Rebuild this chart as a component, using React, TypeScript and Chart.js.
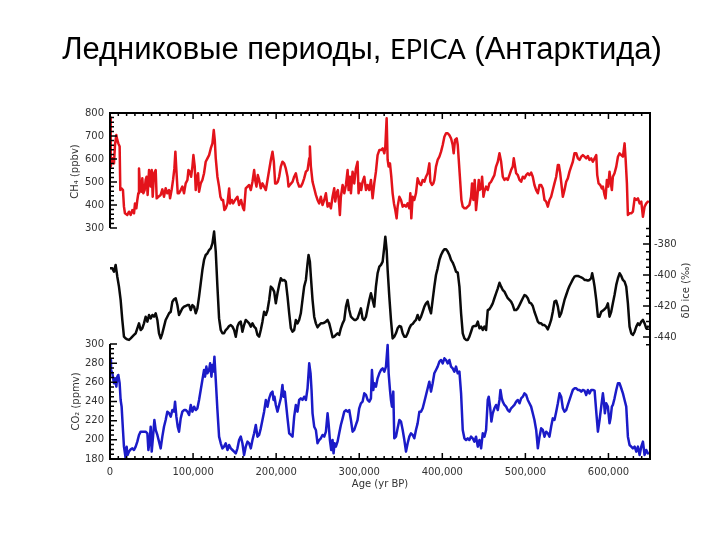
import React, { useEffect, useRef } from 'react';
import { Chart, registerables } from 'chart.js';

Chart.register(...registerables);

// ---------- text ----------
const TITLE_PART_1 = 'Ледниковые периоды, ';
const TITLE_PART_LATIN = 'EPICA';
const TITLE_PART_2 = ' (Антарктида)';
const X_TITLE = 'Age (yr BP)';
const CH4_TITLE = 'CH₄ (ppbv)';
const CO2_TITLE = 'CO₂ (ppmv)';
const DD_TITLE = 'δD ice (‰)';

// ---------- ticks ----------
const X_TICKS = [0, 100000, 200000, 300000, 400000, 500000, 600000];
const CH4_TICKS = [800, 700, 600, 500, 400, 300];
const CO2_TICKS = [300, 280, 260, 240, 220, 200, 180];
const DD_TICKS = [-380, -400, -420, -440];

// ---------- scale ranges (stacked panels share one plot box) ----------
const X_RANGE = [0, 650000];
const CH4_RANGE = [-704, 800];
const CO2_RANGE = [180, 541];
const DD_RANGE = [-518.7, -295.5];

// ---------- CH4 (ppbv) ----------
const ch4Age = [
  0, 0.5, 1.2, 2.8, 4.8, 6.0, 7.6, 8.8, 10.0, 11.6,
  12.4, 14.0, 15.6, 16.8, 18.0, 20.8, 22.9, 24.9, 26.9, 28.9,
  30.1, 31.7, 32.9, 34.1, 34.9, 36.1, 37.7, 38.9, 40.1, 41.7,
  42.9, 44.1, 45.3, 47.0, 49.0, 50.2, 51.4, 53.0, 55.0, 56.2,
  58.2, 61.0, 63.0, 65.0, 67.0, 69.0, 71.1, 72.3, 74.3, 75.9,
  77.5, 78.7, 79.9, 81.5, 83.1, 85.1, 87.1, 89.1, 91.1, 93.2,
  94.4, 96.0, 97.6, 99.2, 100.4, 102.0, 103.2, 104.4, 106.0, 107.2,
  109.2, 111.2, 113.2, 115.2, 117.3, 119.3, 121.3, 123.3, 124.9, 126.1,
  127.3, 129.3, 131.3, 132.9, 134.5, 136.1, 137.7, 139.3, 141.4, 143.4,
  144.6, 146.6, 148.2, 150.6, 153.4, 155.4, 157.8, 160.2, 161.4, 163.4,
  165.5, 167.5, 169.5, 171.5, 173.5, 174.7, 176.3, 177.9, 179.5, 181.5,
  183.5, 185.5, 187.6, 189.6, 191.6, 193.6, 195.6, 197.2, 198.8, 200.4,
  202.0, 203.6, 205.6, 207.6, 209.6, 211.6, 213.7, 214.9, 216.5, 218.1,
  219.7, 221.7, 223.7, 225.7, 227.7, 229.7, 231.7, 233.7, 235.8, 237.8,
  239.8, 240.6, 241.8, 243.8, 245.8, 247.8, 249.8, 251.8, 253.8, 255.8,
  257.9, 259.9, 261.9, 263.9, 265.9, 267.9, 269.9, 271.1, 272.7, 274.3,
  275.9, 276.7, 277.9, 280.0, 282.0, 284.0, 286.0, 287.2, 288.8, 290.0,
  292.0, 294.0, 296.0, 298.0, 299.2, 300.8, 302.4, 304.0, 306.1, 308.1,
  310.1, 312.1, 314.1, 316.1, 318.1, 320.1, 322.1, 324.2, 326.2, 328.2,
  330.2, 331.4, 333.0, 334.2, 335.4, 337.0, 338.6, 340.2, 341.8, 343.4,
  345.0, 346.2, 348.3, 350.3, 352.3, 354.3, 356.3, 358.3, 360.3, 361.5,
  362.7, 364.3, 366.3, 368.3, 370.3, 372.4, 374.4, 376.4, 378.4, 380.4,
  382.4, 384.4, 385.6, 387.6, 389.2, 390.4, 392.4, 394.4, 396.5, 398.5,
  400.5, 402.5, 404.5, 406.5, 408.5, 410.5, 412.5, 413.7, 415.3, 417.3,
  418.6, 419.8, 421.4, 423.0, 424.6, 426.6, 428.6, 430.6, 432.6, 434.6,
  435.8, 437.4, 439.0, 440.6, 442.2, 443.9, 444.7, 446.7, 447.9, 449.5,
  450.7, 452.7, 454.7, 456.7, 458.7, 460.7, 462.7, 464.7, 466.8, 468.8,
  470.8, 472.8, 474.8, 476.8, 478.8, 480.8, 482.8, 484.8, 486.0, 487.6,
  488.9, 490.9, 492.9, 494.9, 496.9, 498.9, 500.9, 502.9, 504.9, 506.9,
  508.9, 510.9, 513.0, 515.0, 517.0, 519.0, 521.0, 523.0, 525.0, 527.0,
  529.0, 531.0, 533.0, 535.0, 537.1, 539.1, 540.3, 541.9, 543.5, 545.1,
  547.1, 549.1, 551.1, 553.1, 555.1, 557.1, 559.1, 561.2, 563.2, 565.2,
  567.2, 569.2, 571.2, 573.2, 575.2, 577.2, 579.2, 581.2, 583.3, 585.3,
  586.5, 588.1, 590.1, 592.1, 593.3, 595.3, 596.5, 598.1, 599.7, 601.3,
  602.9, 604.1, 605.3, 607.3, 609.4, 611.4, 613.4, 615.4, 617.4, 619.4,
  620.6, 622.2, 623.4, 625.4, 627.4, 629.4, 631.5, 633.5, 635.5, 637.5,
  639.5, 641.5, 643.5, 645.5, 647.5,
];
const ch4Values = [
  780, 650, 567, 603, 581, 661, 704, 683, 668, 654,
  465, 472, 465, 393, 364, 357, 371, 357, 378, 364,
  407, 386, 422, 451, 559, 480, 458, 516, 451, 465,
  509, 523, 444, 552, 480, 552, 436, 538, 552, 429,
  436, 444, 468, 436, 473, 451, 465, 429, 468, 509,
  559, 632, 552, 451, 451, 465, 480, 451, 494, 509,
  552, 545, 523, 567, 617, 567, 465, 516, 538, 458,
  494, 509, 538, 588, 603, 617, 646, 668, 726, 683,
  603, 523, 480, 436, 422, 422, 378, 386, 407, 472,
  407, 422, 407, 422, 436, 400, 422, 386, 378, 472,
  480, 487, 465, 501, 552, 509, 480, 530, 509, 473,
  494, 480, 465, 509, 552, 596, 632, 588, 494, 494,
  501, 523, 567, 588, 581, 559, 523, 480, 487, 494,
  501, 523, 538, 501, 480, 480, 494, 516, 545, 552,
  603, 654, 567, 501, 473, 444, 422, 407, 436, 400,
  422, 451, 393, 407, 386, 436, 473, 415, 451, 465,
  400, 357, 436, 487, 451, 487, 552, 465, 523, 451,
  545, 494, 559, 588, 451, 494, 465, 501, 523, 465,
  487, 465, 509, 429, 494, 545, 617, 639, 639, 646,
  625, 654, 777, 596, 567, 581, 523, 451, 407, 378,
  342, 393, 436, 422, 393, 400, 393, 407, 386, 451,
  342, 436, 422, 451, 516, 494, 487, 509, 501, 523,
  538, 581, 501, 487, 494, 509, 567, 596, 610, 632,
  661, 697, 712, 712, 704, 690, 661, 625, 683, 690,
  661, 596, 509, 422, 393, 386, 386, 393, 400, 436,
  494, 422, 509, 378, 436, 509, 465, 472, 523, 436,
  458, 480, 465, 494, 501, 516, 530, 567, 588, 625,
  588, 523, 509, 516, 509, 530, 552, 567, 603, 567,
  538, 530, 509, 501, 523, 516, 530, 538, 530, 541,
  523, 487, 465, 451, 487, 487, 472, 422, 415, 393,
  422, 436, 465, 494, 523, 574, 574, 538, 487, 436,
  465, 501, 516, 545, 567, 588, 625, 625, 603, 596,
  610, 617, 610, 603, 613, 596, 603, 588, 603, 617,
  530, 494, 487, 472, 480, 444, 429, 509, 480, 545,
  494, 465, 523, 538, 567, 610, 625, 617, 610, 668,
  603, 494, 357, 364, 364, 371, 429, 422, 429, 407,
  415, 349, 393, 407, 415,
];

// ---------- deltaD (permil) ----------
const ddAge = [
  0.0, 2.8, 4.8, 6.8, 8.8, 10.8, 12.8, 14.8, 16.8, 18.8,
  20.8, 22.9, 24.9, 26.9, 28.9, 30.9, 32.9, 34.9, 36.9, 38.9,
  40.9, 42.9, 45.0, 47.0, 49.0, 51.0, 53.0, 55.0, 57.0, 59.0,
  61.0, 63.0, 65.0, 67.0, 69.0, 71.1, 73.1, 75.1, 77.1, 79.1,
  81.1, 83.1, 85.1, 87.1, 89.1, 91.1, 93.2, 95.2, 97.2, 99.2,
  101.2, 103.2, 105.2, 107.2, 109.2, 111.2, 113.2, 115.2, 117.3, 119.3,
  121.3, 123.3, 125.3, 127.3, 129.3, 131.3, 133.3, 135.3, 137.3, 139.3,
  141.4, 143.4, 145.4, 147.4, 149.4, 151.4, 153.4, 155.4, 157.4, 159.4,
  161.4, 163.4, 165.5, 167.5, 169.5, 171.5, 173.5, 175.5, 177.5, 179.5,
  181.5, 183.5, 185.5, 187.6, 189.6, 191.6, 193.6, 195.6, 197.6, 199.6,
  201.6, 203.6, 205.6, 207.6, 209.6, 211.6, 213.7, 215.7, 217.7, 219.7,
  221.7, 223.7, 225.7, 227.7, 229.7, 231.7, 233.7, 235.8, 237.8, 239.0,
  240.6, 241.8, 243.8, 245.8, 247.8, 249.8, 251.8, 253.8, 255.8, 257.9,
  259.9, 261.9, 263.9, 265.9, 267.9, 269.9, 271.9, 273.9, 275.9, 277.9,
  280.0, 282.0, 284.0, 286.0, 288.0, 290.0, 292.0, 294.0, 296.0, 298.0,
  300.0, 302.0, 304.0, 306.1, 308.1, 310.1, 312.1, 314.1, 316.1, 318.1,
  320.1, 322.1, 324.2, 326.2, 328.2, 330.2, 331.4, 333.0, 334.2, 336.2,
  338.2, 340.2, 342.2, 344.2, 346.2, 348.3, 350.3, 352.3, 354.3, 356.3,
  358.3, 360.3, 362.3, 364.3, 366.3, 368.3, 370.3, 372.4, 374.4, 376.4,
  378.4, 380.4, 382.4, 384.4, 386.4, 388.4, 390.4, 392.4, 394.4, 396.5,
  398.5, 400.5, 402.5, 404.5, 406.5, 408.5, 410.5, 412.5, 414.5, 416.5,
  418.6, 420.6, 422.6, 424.6, 426.6, 428.6, 430.6, 432.6, 434.6, 436.6,
  438.6, 440.6, 442.7, 444.7, 446.7, 448.7, 450.7, 452.7, 454.7, 456.7,
  458.7, 460.7, 462.7, 464.7, 466.8, 468.8, 470.8, 472.8, 474.8, 476.8,
  478.8, 480.8, 482.8, 484.8, 486.8, 488.9, 490.9, 492.9, 494.9, 496.9,
  498.9, 500.9, 502.9, 504.9, 506.9, 508.9, 510.9, 513.0, 515.0, 517.0,
  519.0, 521.0, 523.0, 525.0, 527.0, 529.0, 531.0, 533.0, 535.0, 537.1,
  539.1, 541.1, 543.1, 545.1, 547.1, 549.1, 551.1, 553.1, 555.1, 557.1,
  559.1, 561.2, 563.2, 565.2, 567.2, 569.2, 571.2, 573.2, 575.2, 577.2,
  579.2, 580.4, 582.0, 583.3, 585.3, 587.3, 589.3, 591.3, 593.3, 595.3,
  597.3, 599.3, 601.3, 603.3, 605.3, 607.3, 609.4, 611.4, 613.4, 615.4,
  617.4, 619.4, 621.4, 623.4, 625.4, 627.4, 629.4, 631.5, 633.5, 635.5,
  637.5, 639.5, 641.5, 643.5, 645.5, 647.5,
];
const ddValues = [
  -395.7, -395.7, -397.8, -393.5, -401.1, -407.5, -416.1, -429.0, -439.8, -440.9,
  -441.5, -441.9, -440.9, -439.8, -438.7, -437.6, -434.4, -431.2, -435.5, -434.4,
  -431.2, -426.9, -430.1, -425.8, -428.0, -425.8, -426.9, -424.7, -429.0, -437.6,
  -440.9, -437.6, -433.3, -429.0, -426.9, -424.7, -423.7, -417.2, -415.7, -415.0,
  -419.4, -425.8, -423.7, -421.5, -420.4, -420.0, -419.4, -419.4, -422.6, -419.4,
  -420.4, -424.7, -421.5, -414.0, -405.4, -396.8, -390.3, -387.1, -386.0, -383.9,
  -382.8, -379.6, -372.0, -385.0, -407.5, -428.0, -435.5, -437.6, -437.6, -435.5,
  -434.4, -432.9, -432.3, -433.3, -435.5, -439.8, -433.3, -430.8, -430.1, -436.6,
  -432.3, -429.0, -430.1, -431.2, -433.3, -431.2, -433.3, -434.4, -438.7, -439.8,
  -435.5, -430.1, -423.7, -425.8, -422.6, -416.1, -407.5, -408.6, -410.7, -418.3,
  -411.8, -406.4, -402.1, -403.6, -403.2, -404.3, -414.0, -424.7, -434.4, -436.6,
  -435.5, -429.0, -431.2, -429.0, -424.7, -416.1, -407.5, -403.2, -392.5, -387.1,
  -391.4, -401.1, -416.1, -426.9, -431.2, -433.8, -432.3, -431.2, -431.2, -430.8,
  -430.1, -429.0, -431.2, -435.5, -440.2, -439.8, -438.7, -437.6, -438.7, -434.4,
  -431.2, -429.0, -420.4, -416.1, -422.6, -426.9, -428.0, -429.0, -429.0, -428.0,
  -424.7, -421.5, -428.0, -429.0, -426.9, -421.5, -416.1, -411.8, -416.1, -420.4,
  -407.5, -398.9, -394.6, -393.5, -391.4, -381.7, -375.3, -383.9, -396.8, -414.0,
  -429.0, -440.9, -439.8, -437.6, -434.4, -432.9, -433.3, -437.6, -439.8, -439.8,
  -437.6, -434.4, -432.3, -431.6, -430.1, -429.0, -425.8, -429.0, -426.9, -423.7,
  -420.4, -418.3, -417.2, -421.5, -424.7, -416.1, -407.5, -400.0, -395.7, -390.3,
  -387.1, -384.9, -383.4, -383.4, -384.9, -387.1, -390.3, -392.0, -394.6, -397.8,
  -398.5, -407.5, -424.7, -437.6, -440.9, -441.9, -441.9, -439.8, -436.6, -433.3,
  -432.9, -432.9, -430.1, -434.4, -433.3, -435.5, -433.3, -435.5, -422.6, -422.1,
  -420.4, -418.3, -415.0, -411.8, -408.6, -405.0, -407.5, -409.7, -410.7, -412.9,
  -415.0, -416.1, -417.2, -419.4, -422.6, -422.6, -421.5, -419.4, -417.2, -415.0,
  -412.9, -413.5, -415.0, -417.8, -418.3, -420.0, -423.7, -426.9, -430.1, -431.2,
  -431.2, -432.3, -432.3, -433.3, -435.1, -432.3, -429.0, -423.7, -417.2, -416.6,
  -420.4, -426.9, -424.7, -420.4, -416.1, -412.9, -409.7, -407.1, -405.0, -402.8,
  -401.1, -400.6, -400.6, -401.1, -401.5, -402.1, -403.2, -403.2, -403.6, -403.2,
  -402.1, -398.9, -403.2, -407.5, -416.1, -426.9, -426.9, -423.7, -423.0, -422.1,
  -420.9, -418.3, -426.9, -423.7, -418.3, -412.9, -406.4, -402.1, -398.9, -400.6,
  -403.2, -404.3, -407.5, -418.3, -433.3, -437.6, -438.7, -436.6, -433.3, -431.2,
  -432.3, -430.1, -429.0, -431.2, -434.4, -433.3,
];

// ---------- CO2 (ppmv) ----------
const co2Age = [
  0.0, 1.2, 2.8, 4.8, 6.0, 7.6, 8.8, 10.0, 11.6, 12.8,
  14.0, 15.6, 16.8, 18.0, 18.8, 20.0, 21.2, 22.9, 24.9, 26.9,
  28.9, 30.9, 32.9, 34.9, 36.9, 38.9, 40.9, 42.9, 45.0, 46.2,
  47.8, 49.0, 50.2, 51.8, 53.4, 55.0, 57.0, 59.0, 61.0, 63.0,
  65.0, 67.0, 69.0, 71.1, 73.1, 75.1, 77.1, 78.3, 79.9, 81.5,
  83.1, 85.1, 87.1, 89.1, 91.1, 93.2, 95.2, 97.2, 99.2, 101.2,
  103.2, 105.2, 107.2, 109.2, 111.2, 113.2, 114.4, 116.0, 117.3, 119.3,
  120.5, 122.1, 123.3, 124.5, 125.7, 127.3, 129.3, 131.3, 133.3, 135.3,
  137.3, 139.3, 141.4, 143.4, 145.4, 147.4, 149.4, 151.4, 153.4, 155.4,
  157.4, 159.4, 161.4, 163.4, 165.5, 167.5, 169.5, 171.5, 173.5, 175.5,
  177.5, 179.5, 181.5, 183.5, 185.5, 187.6, 189.6, 191.6, 193.6, 195.6,
  196.8, 198.0, 199.6, 201.6, 203.6, 205.6, 207.6, 208.8, 210.4, 211.6,
  213.7, 215.7, 217.7, 219.7, 221.7, 223.7, 225.7, 227.7, 229.7, 231.7,
  233.7, 235.8, 237.8, 239.8, 241.4, 242.6, 243.8, 245.8, 247.8, 249.8,
  251.8, 253.8, 255.8, 257.9, 259.9, 261.9, 263.1, 264.7, 266.3, 267.9,
  269.1, 270.3, 271.9, 273.9, 275.9, 277.9, 280.0, 282.0, 284.0, 286.0,
  288.0, 290.0, 292.0, 294.0, 296.0, 298.0, 300.0, 302.0, 304.0, 306.1,
  308.1, 310.1, 312.1, 314.1, 315.3, 316.9, 318.1, 320.1, 322.1, 324.2,
  326.2, 328.2, 330.2, 332.2, 334.2, 335.4, 337.0, 338.2, 339.4, 341.0,
  342.2, 344.2, 346.2, 348.3, 350.3, 352.3, 354.3, 356.3, 358.3, 360.3,
  362.3, 364.3, 366.3, 368.3, 370.3, 372.4, 374.4, 376.4, 378.4, 380.4,
  382.4, 384.4, 386.4, 388.4, 390.4, 392.4, 394.4, 396.5, 398.5, 400.5,
  402.5, 404.5, 406.5, 408.5, 410.5, 412.5, 414.5, 416.5, 418.6, 420.6,
  422.6, 424.6, 426.6, 428.6, 430.6, 432.6, 434.6, 436.6, 438.6, 440.6,
  442.7, 444.7, 446.7, 448.7, 450.7, 452.7, 454.7, 455.9, 457.5, 459.1,
  460.7, 462.7, 464.7, 466.8, 468.8, 470.0, 471.6, 472.8, 474.8, 476.8,
  478.8, 480.8, 482.8, 484.8, 486.8, 488.9, 490.9, 492.9, 494.9, 496.9,
  498.9, 500.9, 502.9, 504.9, 506.9, 508.9, 510.9, 513.0, 515.0, 517.0,
  519.0, 521.0, 523.0, 525.0, 527.0, 529.0, 531.0, 533.0, 535.0, 537.1,
  539.1, 541.1, 543.1, 545.1, 547.1, 549.1, 551.1, 553.1, 555.1, 557.1,
  559.1, 561.2, 563.2, 565.2, 567.2, 569.2, 571.2, 573.2, 575.2, 577.2,
  579.2, 581.2, 583.3, 585.3, 587.3, 589.3, 591.3, 593.3, 594.5, 595.7,
  597.3, 599.3, 601.3, 602.5, 604.1, 605.3, 607.3, 609.4, 611.4, 613.4,
  615.4, 617.4, 619.4, 621.4, 623.4, 625.4, 627.4, 629.4, 631.5, 633.5,
  635.5, 637.5, 639.5, 641.5, 643.5, 645.5, 647.5,
];
const co2Values = [
  283.3, 272.9, 269.4, 259.0, 264.2, 255.5, 265.9, 267.7, 259.0, 241.6,
  234.6, 210.3, 192.9, 185.9, 180.7, 192.9, 184.2, 187.7, 190.1, 191.1,
  189.4, 192.9, 198.1, 205.1, 208.5, 208.5, 208.5, 208.5, 206.8, 189.4,
  199.8, 213.7, 187.7, 203.3, 220.7, 210.3, 205.1, 198.1, 191.1, 203.3,
  213.7, 220.7, 229.4, 227.7, 224.2, 231.1, 229.4, 239.8, 224.2, 213.7,
  208.5, 222.4, 229.4, 231.1, 231.1, 229.4, 225.9, 236.4, 229.4, 234.6,
  231.1, 232.9, 241.6, 252.0, 262.5, 272.9, 265.9, 276.4, 269.4, 272.9,
  279.8, 265.9, 278.1, 271.2, 286.8, 262.5, 231.1, 203.3, 196.4, 191.1,
  192.9, 196.4, 189.4, 194.6, 191.1, 189.4, 187.7, 185.9, 191.1, 199.8,
  203.3, 196.4, 184.2, 192.9, 198.1, 196.4, 191.1, 199.8, 206.8, 215.5,
  203.3, 205.1, 212.0, 220.7, 229.4, 241.6, 234.6, 243.3, 248.5, 250.3,
  241.6, 245.0, 236.4, 229.4, 236.4, 243.3, 257.2, 245.0, 250.3, 239.8,
  222.4, 206.8, 205.1, 203.3, 224.2, 236.4, 229.4, 241.6, 243.3, 241.6,
  245.0, 241.6, 253.8, 279.8, 269.4, 252.0, 227.7, 213.7, 210.3, 196.4,
  199.8, 201.6, 205.1, 203.3, 208.5, 227.7, 217.2, 199.8, 189.4, 199.8,
  185.9, 196.4, 192.9, 198.1, 206.8, 215.5, 222.4, 229.4, 231.1, 229.4,
  231.1, 220.7, 208.5, 210.3, 215.5, 220.7, 232.9, 238.1, 239.8, 248.5,
  246.8, 241.6, 239.8, 243.3, 272.9, 252.0, 259.0, 255.5, 264.2, 269.4,
  272.9, 274.6, 271.2, 276.4, 299.0, 269.4, 252.0, 241.6, 234.6, 250.3,
  201.6, 203.3, 212.0, 220.7, 219.0, 210.3, 199.8, 187.7, 196.4, 203.3,
  206.8, 205.1, 201.6, 210.3, 217.2, 229.4, 229.4, 232.9, 239.8, 246.8,
  253.8, 260.7, 250.3, 259.0, 269.4, 272.9, 276.4, 281.6, 283.3, 279.8,
  285.1, 283.3, 279.8, 283.3, 276.4, 274.6, 271.2, 276.4, 269.4, 271.2,
  248.5, 210.3, 201.6, 199.8, 201.6, 199.8, 203.3, 201.6, 198.1, 203.3,
  192.9, 199.8, 191.1, 206.8, 203.3, 210.3, 241.6, 245.0, 234.6, 219.0,
  227.7, 232.9, 236.4, 231.1, 241.6, 252.0, 243.3, 239.8, 236.4, 234.6,
  231.1, 229.4, 232.9, 234.6, 236.4, 239.8, 241.6, 238.1, 243.3, 245.0,
  248.5, 246.8, 241.6, 238.1, 234.6, 227.7, 220.7, 210.3, 191.1, 203.3,
  212.0, 210.3, 203.3, 208.5, 206.8, 203.3, 213.7, 222.4, 220.7, 229.4,
  238.1, 248.5, 245.0, 232.9, 229.4, 231.1, 236.4, 241.6, 246.8, 252.0,
  253.8, 253.8, 252.0, 252.0, 250.3, 252.0, 251.3, 246.8, 252.0, 248.5,
  252.0, 252.0, 251.3, 229.4, 208.5, 220.7, 234.6, 248.5, 239.8, 227.7,
  238.1, 234.6, 217.2, 222.4, 234.6, 236.4, 243.3, 252.0, 259.0, 259.0,
  253.8, 248.5, 241.6, 234.6, 203.3, 194.6, 192.9, 191.1, 192.9, 187.7,
  192.9, 184.2, 192.9, 198.1, 184.2, 189.4, 185.9,
];

// ---------- styles ----------
const RED = '#e3131b';
const BLACK = '#0a0a0a';
const BLUE = '#1b1bc8';
const TEXT_GREY = '#333333';
const AXIS_FONT = '"DejaVu Sans", sans-serif';

const frac = (v: number, r: number[]) => (v - r[0]) / (r[1] - r[0]);
const LEFT_TICK_VALUES = [
  ...CH4_TICKS.map((v) => frac(v, CH4_RANGE)),
  ...CO2_TICKS.map((v) => frac(v, CO2_RANGE)),
];
const LEFT_TICK_LABELS = [...CH4_TICKS, ...CO2_TICKS].map(String);

const toPoints = (ages: number[], vals: number[]) => {
  const n = Math.min(ages.length, vals.length);
  const out: { x: number; y: number }[] = [];
  for (let i = 0; i < n; i++) out.push({ x: ages[i] * 1000, y: vals[i] });
  return out;
};

const decorPlugin = {
  id: 'decor',
  afterDatasetsDraw(chart: any) {
    const { ctx, chartArea } = chart;
    const { left, right, top, bottom } = chartArea;
    const sx = chart.scales.x;
    const sC = chart.scales.yCH4;
    const sO = chart.scales.yCO2;
    const sD = chart.scales.yD;
    ctx.save();
    ctx.strokeStyle = '#000';
    ctx.lineCap = 'butt';
    // frame
    ctx.lineWidth = 2;
    ctx.beginPath();
    ctx.moveTo(left, sC.getPixelForValue(300));
    ctx.lineTo(left, top);
    ctx.lineTo(right, top);
    ctx.lineTo(right, bottom);
    ctx.lineTo(left, bottom);
    ctx.lineTo(left, sO.getPixelForValue(300));
    ctx.stroke();
    // tick marks (inward)
    ctx.lineWidth = 1.5;
    ctx.beginPath();
    for (let v = X_RANGE[0]; v <= X_RANGE[1]; v += 10000) {
      const p = sx.getPixelForValue(v);
      const len = v % 100000 === 0 ? 6 : 3;
      ctx.moveTo(p, bottom);
      ctx.lineTo(p, bottom - len);
      ctx.moveTo(p, top);
      ctx.lineTo(p, top + len);
    }
    for (let v = 300; v <= 800; v += 20) {
      const p = sC.getPixelForValue(v);
      const len = v % 100 === 0 ? 7 : 4;
      ctx.moveTo(left, p);
      ctx.lineTo(left + len, p);
    }
    for (let v = 180; v <= 300; v += 5) {
      const p = sO.getPixelForValue(v);
      const len = v % 20 === 0 ? 7 : 4;
      ctx.moveTo(left, p);
      ctx.lineTo(left + len, p);
    }
    for (let v = -445; v <= -370; v += 5) {
      const p = sD.getPixelForValue(v);
      const len = v % 20 === 0 ? 7 : 4;
      ctx.moveTo(right, p);
      ctx.lineTo(right - len, p);
    }
    ctx.stroke();

    // axis titles (rotated)
    ctx.fillStyle = TEXT_GREY;
    ctx.font = `10px ${AXIS_FONT}`;
    ctx.textAlign = 'center';
    ctx.textBaseline = 'middle';
    const rot = (text: string, x: number, y: number) => {
      ctx.save();
      ctx.translate(x, y);
      ctx.rotate(-Math.PI / 2);
      ctx.fillText(text, 0, 0);
      ctx.restore();
    };
    rot(CH4_TITLE, 75, (sC.getPixelForValue(800) + sC.getPixelForValue(300)) / 2 + 1);
    rot(CO2_TITLE, 76, (sO.getPixelForValue(300) + sO.getPixelForValue(180)) / 2);
    rot(DD_TITLE, 686, (sD.getPixelForValue(-380) + sD.getPixelForValue(-440)) / 2);

    // main title, mixed fonts
    const f1 = '31px "Liberation Sans", Arial, sans-serif';
    const f2 = '27px Lato, "Open Sans", sans-serif';
    ctx.fillStyle = '#000';
    ctx.textAlign = 'left';
    ctx.textBaseline = 'alphabetic';
    ctx.font = f1;
    const w1 = ctx.measureText(TITLE_PART_1).width;
    const w3 = ctx.measureText(TITLE_PART_2).width;
    ctx.font = f2;
    const w2 = ctx.measureText(TITLE_PART_LATIN).width;
    let tx = 362 - (w1 + w2 + w3) / 2;
    const ty = 59;
    ctx.font = f1;
    ctx.fillText(TITLE_PART_1, tx, ty);
    tx += w1;
    ctx.font = f2;
    ctx.fillText(TITLE_PART_LATIN, tx, ty);
    tx += w2;
    ctx.font = f1;
    ctx.fillText(TITLE_PART_2, tx, ty);
    ctx.restore();
  },
};

export default function App() {
  const ref = useRef<HTMLCanvasElement | null>(null);

  useEffect(() => {
    const canvas = ref.current;
    if (!canvas) return;
    const tickFont = { family: AXIS_FONT, size: 10 };
    const line = (label: string, data: any, axis: string, color: string, width: number) => ({
      label,
      data,
      yAxisID: axis,
      borderColor: color,
      backgroundColor: color,
      borderWidth: width,
      pointRadius: 0,
      tension: 0,
      fill: false,
      borderJoinStyle: 'round' as const,
      borderCapStyle: 'round' as const,
    });
    const chart = new Chart(canvas, {
      type: 'line',
      data: {
        datasets: [
          line('CH4', toPoints(ch4Age, ch4Values), 'yCH4', RED, 2.5),
          line('δD', toPoints(ddAge, ddValues), 'yD', BLACK, 2.5),
          line('CO2', toPoints(co2Age, co2Values), 'yCO2', BLUE, 2.5),
        ],
      },
      options: {
        animation: false,
        responsive: false,
        devicePixelRatio: 1,
        parsing: false,
        normalized: true,
        events: [],
        layout: { padding: { top: 113, left: 0, right: 0, bottom: 0 } },
        plugins: {
          legend: { display: false },
          tooltip: { enabled: false },
          title: { display: false },
        },
        scales: {
          x: {
            type: 'linear',
            position: 'bottom',
            min: X_RANGE[0],
            max: X_RANGE[1],
            grid: { display: false, drawTicks: false },
            border: { display: false },
            ticks: {
              padding: 7,
              color: TEXT_GREY,
              font: tickFont,
              autoSkip: false,
              maxRotation: 0,
              callback: (v: any) => Number(v).toLocaleString('en-US'),
            },
            afterBuildTicks: (s: any) => {
              s.ticks = X_TICKS.map((v) => ({ value: v }));
            },
            afterFit: (s: any) => {
              s.height = 81;
            },
            title: {
              display: true,
              text: X_TITLE,
              color: TEXT_GREY,
              font: tickFont,
              padding: { top: 0, bottom: 50 },
            },
          },
          yL: {
            type: 'linear',
            position: 'left',
            min: 0,
            max: 1,
            grid: { display: false, drawTicks: false },
            border: { display: false },
            ticks: {
              padding: 6,
              color: TEXT_GREY,
              font: tickFont,
              autoSkip: false,
              callback: (_v: any, i: number) => LEFT_TICK_LABELS[i],
            },
            afterBuildTicks: (s: any) => {
              s.ticks = LEFT_TICK_VALUES.map((v) => ({ value: v }));
            },
            afterFit: (s: any) => {
              s.width = 110;
            },
          },
          yCH4: { type: 'linear', display: false, min: CH4_RANGE[0], max: CH4_RANGE[1] },
          yCO2: { type: 'linear', display: false, min: CO2_RANGE[0], max: CO2_RANGE[1] },
          yD: {
            type: 'linear',
            position: 'right',
            min: DD_RANGE[0],
            max: DD_RANGE[1],
            grid: { display: false, drawTicks: false },
            border: { display: false },
            ticks: {
              padding: 4,
              color: TEXT_GREY,
              font: tickFont,
              autoSkip: false,
              callback: (v: any) => String(v),
            },
            afterBuildTicks: (s: any) => {
              s.ticks = DD_TICKS.map((v) => ({ value: v }));
            },
            afterFit: (s: any) => {
              s.width = 70;
            },
          },
        },
      } as any,
      plugins: [decorPlugin],
    });
    return () => chart.destroy();
  }, []);

  return (
    <div style={{ position: 'fixed', left: 0, top: 0, width: 720, height: 540, background: '#fff' }}>
      <canvas ref={ref} width={720} height={540} style={{ display: 'block', width: 720, height: 540 }} />
    </div>
  );
}
